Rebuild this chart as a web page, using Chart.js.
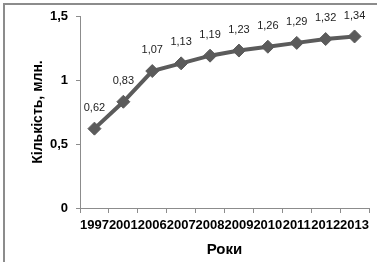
<!DOCTYPE html>
<html>
<head>
<meta charset="utf-8">
<script src="https://cdn.jsdelivr.net/npm/chart.js@4"></script>
<style>
  html, body { margin: 0; padding: 0; background: #fff; overflow: hidden; }
  #frame { position: absolute; left: 3px; top: 3px; width: 420px; height: 300px; border: 2px solid #8c8c8c; }
  #chart { position: absolute; left: 0; top: 0; }
</style>
</head>
<body>
<div id="frame"></div>
<canvas id="chart" width="377" height="262"></canvas>
<script>
const years = ['1997', '2001', '2006', '2007', '2008', '2009', '2010', '2011', '2012', '2013'];
const counts = [0.62, 0.83, 1.07, 1.13, 1.19, 1.23, 1.26, 1.29, 1.32, 1.34];
const yTicks = [0, 0.5, 1, 1.5];

const fmt = v => String(v).replace('.', ',');
const FONT = "'Liberation Sans', Arial, sans-serif";
const lineColor = '#5b5b5b';
const axisColor = '#8c8c8c';

// подписи значений над точками
const valueLabels = {
    id: 'valueLabels',
    afterDatasetsDraw(chart) {
        const c = chart.ctx;
        const meta = chart.getDatasetMeta(0);
        c.save();
        c.font = '11px ' + FONT;
        c.fillStyle = '#222';
        c.textAlign = 'center';
        c.textBaseline = 'middle';
        meta.data.forEach((pt, i) => {
            c.fillText(fmt(counts[i]), pt.x, pt.y - 21);
        });
        c.restore();
    }
};

const ctx = document.getElementById('chart').getContext('2d');
new Chart(ctx, {
    type: 'line',
    data: {
        labels: years,
        datasets: [{
            data: counts,
            borderColor: lineColor,
            backgroundColor: lineColor,
            borderWidth: 4,
            pointStyle: 'rectRot',
            pointRadius: 6.5,
            pointBorderWidth: 1,
            tension: 0,
            fill: false
        }]
    },
    options: {
        responsive: false,
        animation: false,
        layout: { padding: { left: 0, right: 8, top: 16, bottom: 0 } },
        plugins: { legend: { display: false }, tooltip: { enabled: false } },
        scales: {
            x: {
                offset: true,
                afterFit: s => { s.height = 54; },
                grid: { offset: true, drawOnChartArea: false, drawTicks: true, tickLength: 5, color: axisColor },
                border: { color: axisColor, width: 1 },
                ticks: { color: '#000', font: { family: FONT, size: 13, weight: 'bold' }, padding: 5, autoSkip: false, maxRotation: 0, minRotation: 0 },
                title: { display: true, text: 'Роки', color: '#000', font: { family: FONT, size: 15, weight: 'bold' }, padding: { top: 0, bottom: 3 } }
            },
            y: {
                min: 0,
                max: 1.5,
                afterFit: s => { s.width = 80; },
                afterBuildTicks: s => { s.ticks = yTicks.map(v => ({ value: v })); },
                grid: { drawOnChartArea: false, drawTicks: true, tickLength: 4, color: axisColor },
                border: { color: axisColor, width: 1 },
                ticks: { color: '#000', font: { family: FONT, size: 13, weight: 'bold' }, padding: 8, callback: v => fmt(v) },
                title: { display: true, text: 'Кількість, млн.', color: '#000', font: { family: FONT, size: 14, weight: 'bold' }, padding: { top: 30, bottom: 0 } }
            }
        }
    },
    plugins: [valueLabels]
});
</script>
</body>
</html>
